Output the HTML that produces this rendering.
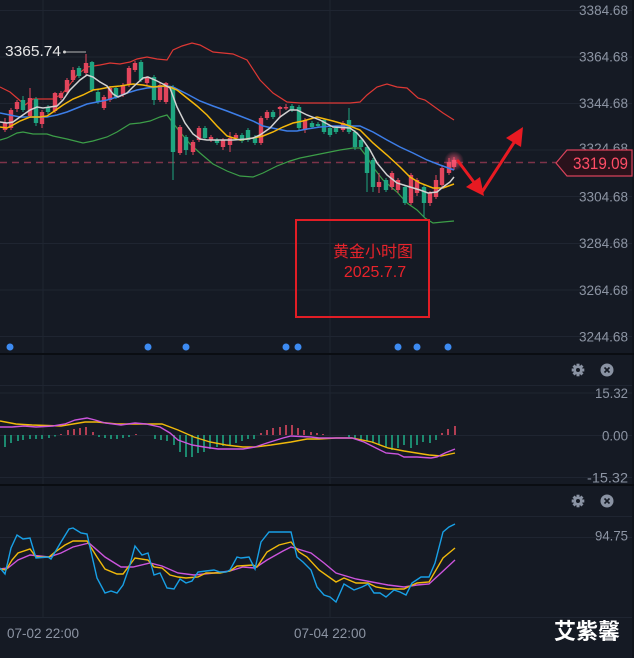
<!DOCTYPE html>
<html><head><meta charset="utf-8"><style>
html,body{margin:0;padding:0;background:#151a24;}
svg{display:block;}
.ax{font-family:"Liberation Sans",sans-serif;font-size:13.5px;fill:#8c94a3;}
</style></head><body>
<svg width="634" height="658" viewBox="0 0 634 658" xmlns="http://www.w3.org/2000/svg">
<defs>
<radialGradient id="glow"><stop offset="0" stop-color="#ff5a7a" stop-opacity="0.75"/><stop offset="1" stop-color="#ff5a7a" stop-opacity="0"/></radialGradient>
</defs>
<rect width="634" height="658" fill="#151a24"/>
<rect x="632" y="0" width="2" height="658" fill="#10141c"/>
<g stroke="#1f2531" stroke-width="1">
<line x1="0" y1="10.5" x2="632" y2="10.5"/><line x1="0" y1="57" x2="632" y2="57"/><line x1="0" y1="103.5" x2="632" y2="103.5"/><line x1="0" y1="150" x2="632" y2="150"/><line x1="0" y1="196.5" x2="632" y2="196.5"/><line x1="0" y1="243.5" x2="632" y2="243.5"/><line x1="0" y1="290" x2="632" y2="290"/><line x1="0" y1="336.5" x2="632" y2="336.5"/>
<line x1="0" y1="385.5" x2="632" y2="385.5"/><line x1="0" y1="393" x2="632" y2="393"/><line x1="0" y1="435.5" x2="632" y2="435.5"/><line x1="0" y1="477.5" x2="632" y2="477.5"/>
<line x1="0" y1="516.5" x2="632" y2="516.5"/><line x1="0" y1="537.5" x2="632" y2="537.5"/><line x1="0" y1="617.5" x2="632" y2="617.5"/>
<line x1="43" y1="0" x2="43" y2="618"/><line x1="330" y1="0" x2="330" y2="618"/>
</g>
<rect x="0" y="353" width="634" height="2" fill="#0a0d12"/>
<rect x="0" y="484" width="634" height="2" fill="#0a0d12"/>

<line x1="0" y1="162.5" x2="556" y2="162.5" stroke="#7d3349" stroke-width="1.5" stroke-dasharray="7 5"/>

<polyline fill="none" stroke="#dd3834" stroke-width="1.2" points="0,87 10,92 17,98 25,105 33,99 43,99 53,99 62,94 68,87 77,75 87,67 100,65 110,63 120,64 130,62 137,59 147,57 157,59 167,60 173,50 182,46 192,43 200,45 213,52 233,54 247,60 260,80 273,93 287,102 300,103 350,103 360,102 367,95 377,87 387,84 397,87 407,88 418,98 425,100 443,113 454,120"/>
<polyline fill="none" stroke="#3c9e48" stroke-width="1.2" points="0,140 7,138 17,133 23,132 33,134 47,134 53,136 67,139 83,143 93,141 107,137 117,132 130,124 140,123 150,121 160,117 167,115 170,119 180,132 190,144 200,153 213,164 227,171 240,176 253,177 263,173 277,166 290,161 300,158 320,154 340,150 353,148 360,148 367,157 373,167 383,180 397,192 407,203 417,210 425,218 433,223 443,222 454,221"/>

<g fill="#e2455c">
<rect x="2.8" y="123" width="4.4" height="7"/><rect x="4.5" y="118" width="1" height="14"/>
<rect x="8.8" y="110" width="4.4" height="18"/><rect x="10.5" y="108" width="1" height="22"/>
<rect x="14.8" y="102" width="4.4" height="7"/><rect x="16.5" y="100" width="1" height="12"/>
<rect x="27.8" y="98" width="4.4" height="18"/><rect x="29.5" y="88" width="1" height="30"/>
<rect x="39.8" y="112" width="4.4" height="12"/><rect x="41.5" y="110" width="1" height="18"/>
<rect x="52.8" y="93" width="4.4" height="18"/><rect x="54.5" y="92" width="1" height="21"/>
<rect x="58.8" y="93" width="4.4" height="5"/><rect x="60.5" y="91" width="1" height="9"/>
<rect x="64.8" y="80" width="4.4" height="12"/><rect x="66.5" y="78" width="1" height="16"/>
<rect x="70.8" y="70" width="4.4" height="10"/><rect x="72.5" y="67" width="1" height="15"/>
<rect x="83.8" y="63" width="4.4" height="10"/><rect x="85.5" y="54" width="1" height="21"/>
<rect x="101.8" y="97" width="4.4" height="11"/><rect x="103.5" y="95" width="1" height="15"/>
<rect x="107.8" y="88" width="4.4" height="12"/><rect x="109.5" y="86" width="1" height="16"/>
<rect x="120.8" y="85" width="4.4" height="10"/><rect x="122.5" y="83" width="1" height="14"/>
<rect x="126.8" y="68" width="4.4" height="17"/><rect x="128.5" y="66" width="1" height="21"/>
<rect x="132.8" y="63" width="4.4" height="7"/><rect x="134.5" y="61" width="1" height="11"/>
<rect x="144.8" y="78" width="4.4" height="5"/><rect x="146.5" y="76" width="1" height="9"/>
<rect x="157.8" y="85" width="4.4" height="15"/><rect x="159.5" y="83" width="1" height="19"/>
<rect x="163.8" y="83" width="4.4" height="19"/><rect x="165.5" y="82" width="1" height="22"/>
<rect x="177.8" y="127" width="4.4" height="26"/><rect x="179.5" y="125" width="1" height="30"/>
<rect x="190.8" y="142" width="4.4" height="10"/><rect x="192.5" y="140" width="1" height="15"/>
<rect x="196.8" y="128" width="4.4" height="12"/><rect x="198.5" y="126" width="1" height="16"/>
<rect x="208.8" y="137" width="4.4" height="3"/><rect x="210.5" y="135" width="1" height="7"/>
<rect x="220.8" y="140" width="4.4" height="7"/><rect x="222.5" y="138" width="1" height="12"/>
<rect x="227.8" y="138" width="4.4" height="7"/><rect x="229.5" y="132" width="1" height="20"/>
<rect x="233.8" y="135" width="4.4" height="3"/><rect x="235.5" y="133" width="1" height="7"/>
<rect x="258.8" y="118" width="4.4" height="25"/><rect x="260.5" y="116" width="1" height="29"/>
<rect x="264.8" y="112" width="4.4" height="6"/><rect x="266.5" y="110" width="1" height="10"/>
<rect x="277.8" y="107" width="4.4" height="2"/><rect x="279.5" y="106" width="1" height="12"/>
<rect x="283.8" y="107" width="4.4" height="1.5"/><rect x="285.5" y="104" width="1" height="6"/>
<rect x="302.8" y="120" width="4.4" height="10"/><rect x="304.5" y="118" width="1" height="15"/>
<rect x="340.8" y="123" width="4.4" height="7"/><rect x="342.5" y="121" width="1" height="11"/>
<rect x="376.8" y="182" width="4.4" height="5"/><rect x="378.5" y="173" width="1" height="20"/>
<rect x="389.8" y="173" width="4.4" height="14"/><rect x="391.5" y="171" width="1" height="19"/>
<rect x="395.8" y="180" width="4.4" height="10"/><rect x="397.5" y="178" width="1" height="15"/>
<rect x="408.8" y="175" width="4.4" height="28"/><rect x="410.5" y="173" width="1" height="32"/>
<rect x="414.8" y="180" width="4.4" height="13"/><rect x="416.5" y="178" width="1" height="18"/>
<rect x="427.8" y="193" width="4.4" height="10"/><rect x="429.5" y="191" width="1" height="15"/>
<rect x="433.8" y="180" width="4.4" height="17"/><rect x="435.5" y="175" width="1" height="24"/>
<rect x="439.8" y="168" width="4.4" height="17"/><rect x="441.5" y="165" width="1" height="23"/>
<rect x="446.8" y="162" width="4.4" height="11"/><rect x="448.5" y="158" width="1" height="17"/>
<rect x="451.8" y="160" width="4.4" height="7"/><rect x="453.5" y="157" width="1" height="13"/>
</g>
<g fill="#1fa581">
<rect x="20.8" y="100" width="4.4" height="10"/><rect x="22.5" y="96" width="1" height="16"/>
<rect x="33.8" y="99" width="4.4" height="24"/><rect x="35.5" y="97" width="1" height="29"/>
<rect x="45.8" y="107" width="4.4" height="5"/><rect x="47.5" y="105" width="1" height="9"/>
<rect x="76.8" y="68" width="4.4" height="8"/><rect x="78.5" y="66" width="1" height="12"/>
<rect x="89.8" y="62" width="4.4" height="28"/><rect x="91.5" y="61" width="1" height="31"/>
<rect x="95.8" y="92" width="4.4" height="10"/><rect x="97.5" y="90" width="1" height="14"/>
<rect x="113.8" y="88" width="4.4" height="9"/><rect x="115.5" y="86" width="1" height="13"/>
<rect x="138.8" y="62" width="4.4" height="18"/><rect x="140.5" y="60" width="1" height="22"/>
<rect x="151.8" y="77" width="4.4" height="23"/><rect x="153.5" y="75" width="1" height="30"/>
<rect x="170.8" y="87" width="4.4" height="65"/><rect x="172.5" y="85" width="1" height="95"/>
<rect x="183.8" y="137" width="4.4" height="13"/><rect x="185.5" y="135" width="1" height="20"/>
<rect x="202.8" y="128" width="4.4" height="10"/><rect x="204.5" y="126" width="1" height="14"/>
<rect x="214.8" y="140" width="4.4" height="3"/><rect x="216.5" y="138" width="1" height="7"/>
<rect x="239.8" y="135" width="4.4" height="6"/><rect x="241.5" y="133" width="1" height="10"/>
<rect x="245.8" y="130" width="4.4" height="10"/><rect x="247.5" y="128" width="1" height="14"/>
<rect x="252.8" y="137" width="4.4" height="6"/><rect x="254.5" y="135" width="1" height="10"/>
<rect x="270.8" y="112" width="4.4" height="5"/><rect x="272.5" y="110" width="1" height="9"/>
<rect x="289.8" y="106" width="4.4" height="4"/><rect x="291.5" y="104" width="1" height="8"/>
<rect x="296.8" y="107" width="4.4" height="21"/><rect x="298.5" y="105" width="1" height="25"/>
<rect x="309.8" y="123" width="4.4" height="4"/><rect x="311.5" y="121" width="1" height="8"/>
<rect x="315.8" y="124" width="4.4" height="2"/><rect x="317.5" y="122" width="1" height="6"/>
<rect x="321.8" y="120" width="4.4" height="12"/><rect x="323.5" y="118" width="1" height="16"/>
<rect x="327.8" y="128" width="4.4" height="7"/><rect x="329.5" y="126" width="1" height="11"/>
<rect x="333.8" y="128" width="4.4" height="4"/><rect x="335.5" y="126" width="1" height="8"/>
<rect x="346.8" y="120" width="4.4" height="12"/><rect x="348.5" y="108" width="1" height="26"/>
<rect x="352.8" y="132" width="4.4" height="15"/><rect x="354.5" y="130" width="1" height="20"/>
<rect x="358.8" y="140" width="4.4" height="7"/><rect x="360.5" y="138" width="1" height="12"/>
<rect x="364.8" y="147" width="4.4" height="26"/><rect x="366.5" y="145" width="1" height="47"/>
<rect x="370.8" y="160" width="4.4" height="27"/><rect x="372.5" y="158" width="1" height="34"/>
<rect x="383.8" y="180" width="4.4" height="10"/><rect x="385.5" y="178" width="1" height="14"/>
<rect x="402.8" y="187" width="4.4" height="16"/><rect x="404.5" y="185" width="1" height="20"/>
<rect x="421.8" y="187" width="4.4" height="16"/><rect x="423.5" y="185" width="1" height="32"/>
</g>
<circle cx="454" cy="161" r="10" fill="url(#glow)"/>

<polyline fill="none" stroke="#3d7ee8" stroke-width="1.5" points="0,113 10,115 20,117 33,117 47,117 57,115 67,112 77,108 87,104 97,102 107,100 117,97 127,93 137,90 147,88 157,87 167,86 173,87 187,94 200,101 213,106 227,111 240,116 253,121 263,126 277,129 287,131 297,131 307,129 320,127 333,126 360,126 373,132 387,140 400,147 413,153 427,160 440,165 454,170"/>
<polyline fill="none" stroke="#f5b70a" stroke-width="1.5" points="0,127 7,128 13,125 20,121 30,117 40,117 47,116 53,112 63,105 73,99 83,95 93,90 100,89 110,87 120,86 133,84 143,85 153,87 163,86 170,87 177,90 187,98 197,106 207,115 217,126 227,136 240,140 253,138 263,136 273,132 283,127 293,123 303,121 317,117 333,121 347,125 360,130 373,143 387,155 400,167 410,177 420,183 433,188 443,188 454,184"/>
<polyline fill="none" stroke="#d2d2d2" stroke-width="1.5" points="0,122 7,123 13,122 20,117 30,110 37,107 43,108 50,107 57,106 63,100 70,90 80,80 87,75 93,77 100,82 107,86 113,94 118,97 127,93 133,87 143,78 148,77 155,80 163,84 170,88 177,107 185,123 193,134 200,139 207,140 220,140 233,140 247,139 253,138 260,135 270,128 280,117 290,110 297,110 307,115 320,120 333,127 350,128 357,133 363,140 370,150 377,163 387,175 397,183 410,187 420,190 428,193 437,192 443,187 450,182 454,177"/>

<text x="5" y="56" font-family="Liberation Sans, sans-serif" font-size="15" fill="#e6e6e6" textLength="56" lengthAdjust="spacingAndGlyphs">3365.74</text>
<line x1="63" y1="52" x2="86" y2="52" stroke="#b8b8b8" stroke-width="1"/>
<circle cx="64.5" cy="52" r="1.5" fill="#d0d0d0"/>

<g fill="#3d8bf2">
<circle cx="10" cy="347" r="3.5"/><circle cx="148" cy="347" r="3.5"/><circle cx="186" cy="347" r="3.5"/><circle cx="286" cy="347" r="3.5"/><circle cx="298" cy="347" r="3.5"/><circle cx="398" cy="347" r="3.5"/><circle cx="417" cy="347" r="3.5"/><circle cx="448" cy="347" r="3.5"/>
</g>

<rect x="296" y="220" width="133" height="97" fill="none" stroke="#e21d25" stroke-width="2"/>
<text x="373" y="257" text-anchor="middle" font-family="Liberation Sans, Noto Sans CJK SC, sans-serif" font-size="16" fill="#e8232b">黄金小时图</text>
<text x="375" y="277" text-anchor="middle" font-family="Liberation Sans, sans-serif" font-size="16" fill="#e8232b">2025.7.7</text>

<g stroke="#e81a22" stroke-width="3" fill="#e81a22" stroke-linecap="round">
<line x1="458" y1="161" x2="476" y2="185"/>
<polygon stroke="none" points="484,196 466,187 480,177"/>
<line x1="482" y1="192" x2="515" y2="141"/>
<polygon stroke="none" points="523,127 521,147 506,138"/>
</g>

<g class="ax" text-anchor="end">
<text x="628" y="14.8" textLength="49" lengthAdjust="spacingAndGlyphs">3384.68</text>
<text x="628" y="61.5" textLength="49" lengthAdjust="spacingAndGlyphs">3364.68</text>
<text x="628" y="108.2" textLength="49" lengthAdjust="spacingAndGlyphs">3344.68</text>
<text x="628" y="153" textLength="49" lengthAdjust="spacingAndGlyphs">3324.68</text>
<text x="628" y="201.6" textLength="49" lengthAdjust="spacingAndGlyphs">3304.68</text>
<text x="628" y="248" textLength="49" lengthAdjust="spacingAndGlyphs">3284.68</text>
<text x="628" y="295" textLength="49" lengthAdjust="spacingAndGlyphs">3264.68</text>
<text x="628" y="341.7" textLength="49" lengthAdjust="spacingAndGlyphs">3244.68</text>
</g>
<polygon points="556,163 567,150 632,150 632,176 567,176" fill="#2a121b" stroke="#d8425a" stroke-width="1.2"/>
<text x="628" y="169" text-anchor="end" font-family="Liberation Sans, sans-serif" font-size="16.5" fill="#ff4d66" textLength="55" lengthAdjust="spacingAndGlyphs">3319.09</text>

<g fill="#1fa582">
<rect x="4.2" y="435" width="1.6" height="12"/><rect x="10.2" y="435" width="1.6" height="8"/><rect x="17.2" y="435" width="1.6" height="6"/><rect x="22.2" y="435" width="1.6" height="5"/><rect x="29.2" y="435" width="1.6" height="4"/><rect x="35.2" y="435" width="1.6" height="4"/><rect x="41.2" y="435" width="1.6" height="4"/><rect x="48.2" y="435" width="1.6" height="3"/><rect x="54.2" y="435" width="1.6" height="1.5"/>
<rect x="98.2" y="435" width="1.6" height="2"/><rect x="104.2" y="435" width="1.6" height="3"/><rect x="110.2" y="435" width="1.6" height="4"/><rect x="116.2" y="435" width="1.6" height="4"/><rect x="122.2" y="435" width="1.6" height="3"/><rect x="128.2" y="435" width="1.6" height="2"/>
<rect x="154.2" y="435" width="1.6" height="4"/><rect x="160.2" y="435" width="1.6" height="5"/><rect x="166.2" y="435" width="1.6" height="6"/><rect x="173.2" y="435" width="1.6" height="10"/><rect x="179.2" y="435" width="1.6" height="17"/><rect x="185.2" y="435" width="1.6" height="22"/><rect x="191.2" y="435" width="1.6" height="22"/><rect x="197.2" y="435" width="1.6" height="18"/><rect x="203.2" y="435" width="1.6" height="17"/><rect x="209.2" y="435" width="1.6" height="14"/><rect x="216.2" y="435" width="1.6" height="12"/><rect x="222.2" y="435" width="1.6" height="11"/><rect x="229.2" y="435" width="1.6" height="10"/><rect x="235.2" y="435" width="1.6" height="8"/><rect x="241.2" y="435" width="1.6" height="6"/><rect x="247.2" y="435" width="1.6" height="4"/><rect x="253.2" y="435" width="1.6" height="4"/>
<rect x="348.2" y="435" width="1.6" height="2"/><rect x="354.2" y="435" width="1.6" height="4"/><rect x="360.2" y="435" width="1.6" height="5"/><rect x="366.2" y="435" width="1.6" height="6"/><rect x="372.2" y="435" width="1.6" height="8"/><rect x="378.2" y="435" width="1.6" height="10"/><rect x="385.2" y="435" width="1.6" height="12"/><rect x="391.2" y="435" width="1.6" height="15"/><rect x="397.2" y="435" width="1.6" height="13"/><rect x="403.2" y="435" width="1.6" height="10"/><rect x="410.2" y="435" width="1.6" height="13"/><rect x="416.2" y="435" width="1.6" height="10"/><rect x="422.2" y="435" width="1.6" height="7"/><rect x="429.2" y="435" width="1.6" height="8"/><rect x="435.2" y="435" width="1.6" height="5"/>
</g>
<g fill="#d9475f">
<rect x="60.2" y="434" width="1.6" height="1"/><rect x="67.2" y="430" width="1.6" height="5"/><rect x="73.2" y="429" width="1.6" height="6"/><rect x="79.2" y="428" width="1.6" height="7"/><rect x="85.2" y="427" width="1.6" height="8"/><rect x="92.2" y="432" width="1.6" height="3"/><rect x="135.2" y="434" width="1.6" height="1"/>
<rect x="260.2" y="433" width="1.6" height="2"/><rect x="266.2" y="430" width="1.6" height="5"/><rect x="272.2" y="428" width="1.6" height="7"/><rect x="279.2" y="427" width="1.6" height="8"/><rect x="285.2" y="425" width="1.6" height="10"/><rect x="291.2" y="425" width="1.6" height="10"/><rect x="297.2" y="428" width="1.6" height="7"/><rect x="303.2" y="430" width="1.6" height="5"/><rect x="310.2" y="432" width="1.6" height="3"/><rect x="316.2" y="433" width="1.6" height="2"/><rect x="322.2" y="434" width="1.6" height="1"/>
<rect x="441.2" y="433" width="1.6" height="2"/><rect x="447.2" y="429" width="1.6" height="6"/><rect x="454.2" y="426" width="1.6" height="9"/>
</g>
<polyline fill="none" stroke="#f0b90b" stroke-width="1.4" points="0,421 16,424 32,425 61,426 85,422 97,422 117,424 133,424 162,424 178,430 194,437 210,442 226,445 243,447 255,447 271,445 291,442 307,439 319,439 336,438 352,438 372,442 388,448 404,451 429,455 441,456 455,453"/>
<polyline fill="none" stroke="#cc55dd" stroke-width="1.4" points="0,427 12,427 24,426 36,427 53,426 65,424 75,420 87,418 95,420 105,423 121,425 135,423 146,424 160,427 170,433 178,440 192,445 204,447 218,449 243,449 255,447 267,443 283,438 291,436 311,437 319,438 336,438 352,438 364,442 376,448 386,453 398,454 404,457 417,457 431,458 437,457 445,453 455,449"/>
<g class="ax" text-anchor="end">
<text x="628" y="398" textLength="33" lengthAdjust="spacingAndGlyphs">15.32</text>
<text x="628" y="440.5" textLength="26" lengthAdjust="spacingAndGlyphs">0.00</text>
<text x="628" y="482.5" textLength="41" lengthAdjust="spacingAndGlyphs">-15.32</text>
</g>

<polyline fill="none" stroke="#cc55dd" stroke-width="1.4" points="0,569 8,568 18,560 30,555 49,557 61,553 73,547 89,543 105,557 121,567 133,567 150,563 162,566 178,573 194,575 214,573 230,571 243,567 255,568 267,560 283,551 291,547 311,553 324,563 336,573 356,579 372,582 388,585 404,587 417,585 429,584 441,573 455,560"/>
<polyline fill="none" stroke="#f0b90b" stroke-width="1.4" points="0,569 6,570 12,560 18,553 30,549 36,557 49,557 55,552 65,545 73,541 87,541 97,557 105,569 117,574 123,574 129,566 135,558 148,560 154,567 162,568 170,575 178,577 186,578 198,577 206,573 220,573 230,571 237,566 253,565 257,567 267,552 279,545 291,542 299,552 307,557 319,570 336,582 344,578 356,583 368,583 376,587 388,589 404,589 408,587 417,583 429,582 443,558 455,548"/>
<polyline fill="none" stroke="#18a0e6" stroke-width="1.4" points="0,568 5,574 11,548 17,535 23,539 30,538 36,558 48,557 51,559 61,542 69,529 73,528 81,533 87,534 97,578 105,593 111,591 117,593 123,585 129,568 135,546 142,555 148,553 154,575 160,573 167,588 174,589 180,579 186,583 192,581 198,572 206,571 214,570 220,572 226,572 230,570 237,557 241,558 249,557 255,569 261,542 269,532 279,532 291,532 297,557 303,562 311,570 317,587 324,595 330,597 336,602 344,584 354,590 362,587 368,584 374,593 380,593 386,597 394,590 400,592 406,595 412,583 421,577 429,577 435,563 443,532 449,527 455,524"/>
<text class="ax" x="628" y="540.5" text-anchor="end" textLength="33" lengthAdjust="spacingAndGlyphs">94.75</text>

<g fill="#8a93a3">
<g transform="translate(578,370)">
<circle r="4.6"/>
<rect x="-1.5" y="-6.3" width="3" height="3"/><rect x="-1.5" y="3.3" width="3" height="3"/><rect x="-6.3" y="-1.5" width="3" height="3"/><rect x="3.3" y="-1.5" width="3" height="3"/>
<g transform="rotate(45)"><rect x="-1.5" y="-6.3" width="3" height="3"/><rect x="-1.5" y="3.3" width="3" height="3"/><rect x="-6.3" y="-1.5" width="3" height="3"/><rect x="3.3" y="-1.5" width="3" height="3"/></g>
<circle r="2" fill="#151a24"/>
</g>
<g transform="translate(607,370)"><circle r="6.5"/><path d="M-2.5,-2.5 L2.5,2.5 M2.5,-2.5 L-2.5,2.5" stroke="#151a24" stroke-width="1.6"/></g>
<g transform="translate(578,501)">
<circle r="4.6"/>
<rect x="-1.5" y="-6.3" width="3" height="3"/><rect x="-1.5" y="3.3" width="3" height="3"/><rect x="-6.3" y="-1.5" width="3" height="3"/><rect x="3.3" y="-1.5" width="3" height="3"/>
<g transform="rotate(45)"><rect x="-1.5" y="-6.3" width="3" height="3"/><rect x="-1.5" y="3.3" width="3" height="3"/><rect x="-6.3" y="-1.5" width="3" height="3"/><rect x="3.3" y="-1.5" width="3" height="3"/></g>
<circle r="2" fill="#151a24"/>
</g>
<g transform="translate(607,501)"><circle r="6.5"/><path d="M-2.5,-2.5 L2.5,2.5 M2.5,-2.5 L-2.5,2.5" stroke="#151a24" stroke-width="1.6"/></g>
</g>

<g class="ax" text-anchor="middle">
<text x="43" y="638" textLength="72" lengthAdjust="spacingAndGlyphs">07-02 22:00</text>
<text x="330" y="638" textLength="72" lengthAdjust="spacingAndGlyphs">07-04 22:00</text>
</g>
<text x="587" y="639" text-anchor="middle" font-family="Liberation Sans, Noto Sans CJK SC, sans-serif" font-size="22" font-weight="bold" fill="#ffffff">艾紫馨</text>
</svg>
</body></html>
